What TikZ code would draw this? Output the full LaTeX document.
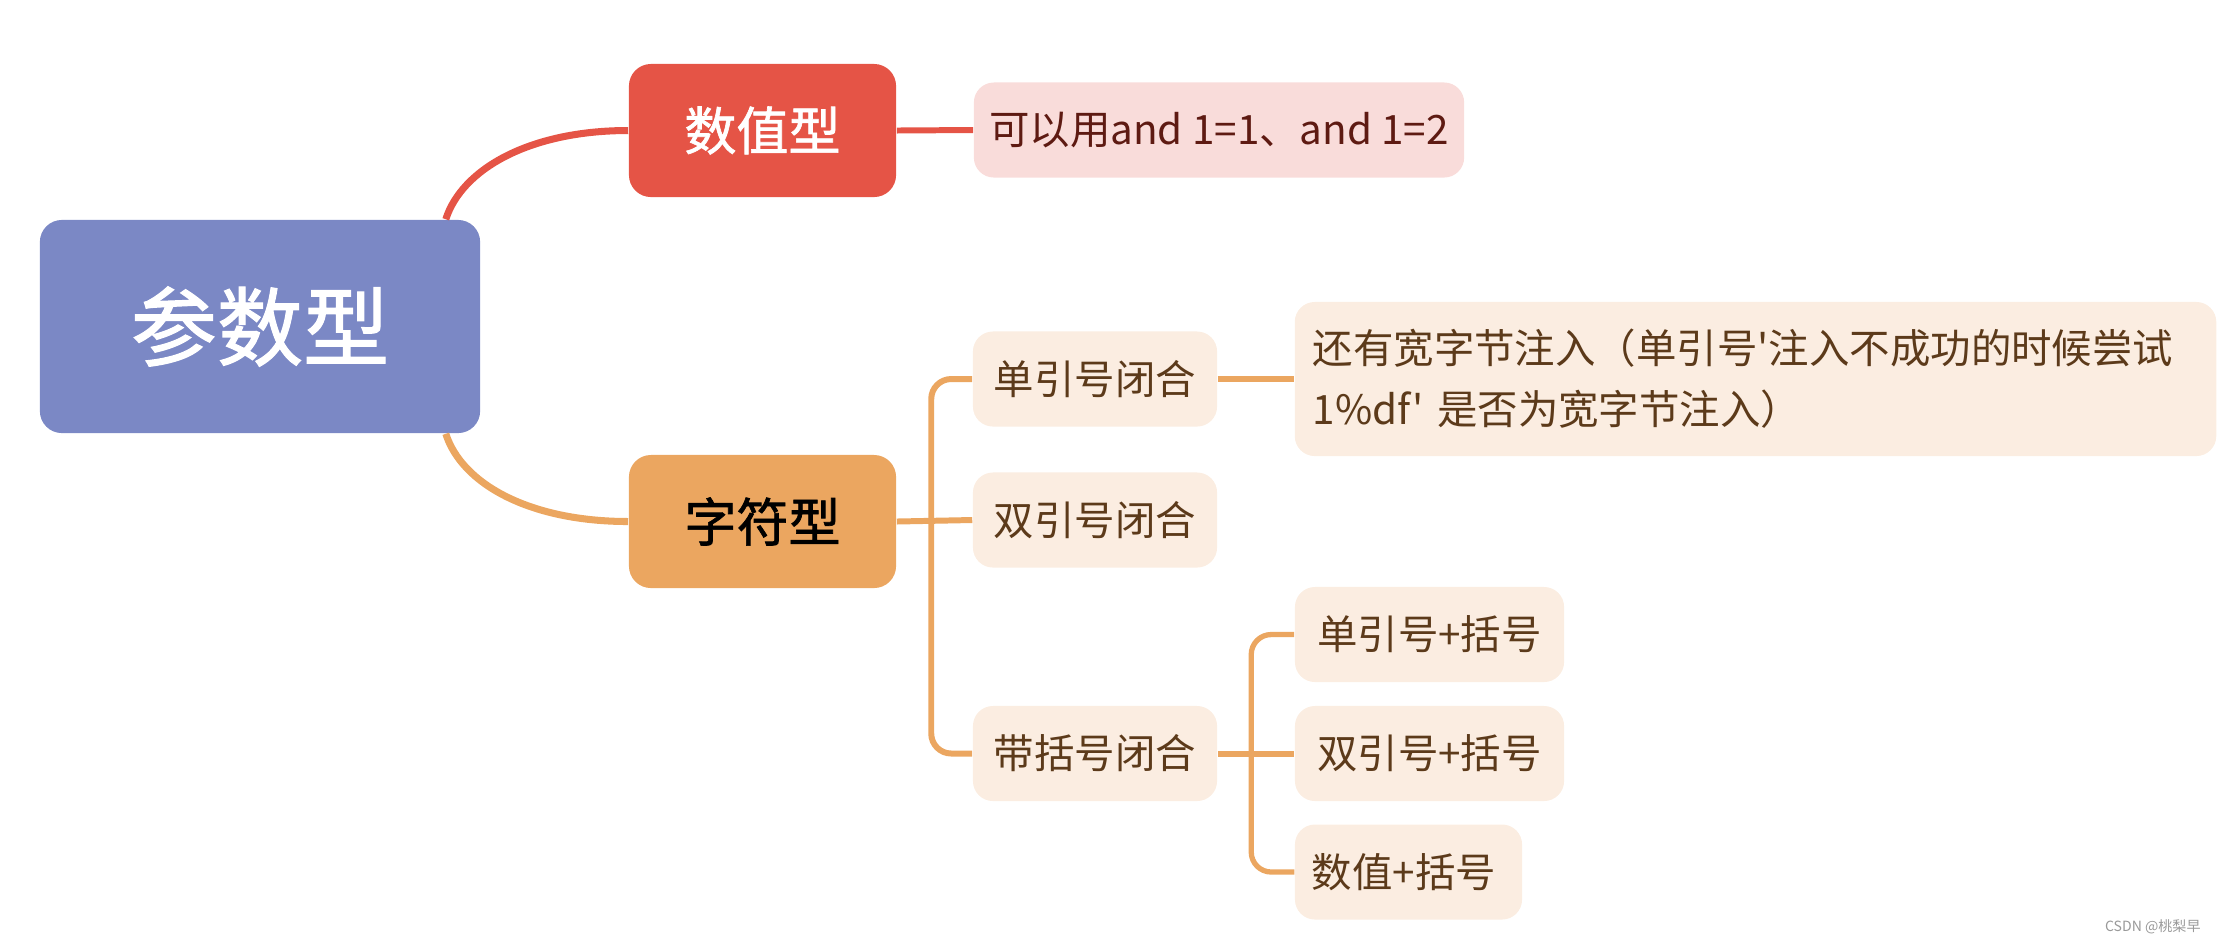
\documentclass[tikz,border=0pt]{standalone}
\usepackage{fontspec}
\setmainfont{Noto Sans CJK SC}[Ligatures=TeXOff]
\newfontfamily\topicfont{Noto Sans CJK SC}[FakeBold=1.3]
\usepackage{tikz}

\definecolor{rootblue}{HTML}{7B88C5}
\definecolor{numred}{HTML}{E55446}
\definecolor{numleaf}{HTML}{F9DCDA}
\definecolor{numtext}{HTML}{5E1A12}
\definecolor{chrorange}{HTML}{EBA660}
\definecolor{chrleaf}{HTML}{FBEDE1}
\definecolor{chrtext}{HTML}{5C3A1A}

\tikzset{basic box/.style={rectangle,
                           rounded corners=2.2mm,
                           inner sep=0pt,
                           align=center}}
\tikzset{topic box/.style={basic box,
                           minimum width=2.67cm,
                           minimum height=1.33cm,
                           font=\fontsize{14.8pt}{16pt}\topicfont}}
\tikzset{leaf box/.style={basic box,
                          rounded corners=2mm,
                          minimum height=0.95cm,
                          font=\fontsize{11.5pt}{17.4pt}\selectfont}}
\tikzset{branch/.style={draw,
                        color=chrorange,
                        line width=1.7pt,
                        rounded corners=2mm}}

\begin{document}
\begin{tikzpicture}
      [
      x=0.01cm, y=-0.01cm,
      orange leaf/.style={leaf box,
      fill=chrleaf,
      text=chrtext},
      ]
      \useasboundingbox (0,0) rectangle (2228,944);

      % root and topics
      \node [basic box,fill=rootblue,text=white,minimum width=4.4cm,minimum height=2.13cm,
      font=\fontsize{24.5pt}{26pt}\topicfont] (root) at (260,326.5) {参数型};
      \node [topic box,fill=numred,text=white] (num) at (762.5,130.5) {数值型};
      \node [topic box,fill=chrorange,text=black] (chr) at (762.5,521.5) {字符型};

      % leaves
      \node [leaf box,fill=numleaf,text=numtext,minimum width=4.9cm] (numA) at (1219,130)
      {可以用and 1=1、and 1=2};

      \foreach \n/\x/\y/\w/\t in
      {
      sq/1095/379/2.44/单引号闭合,
      dq/1095/520/2.44/双引号闭合,
      br/1095/753.5/2.44/带括号闭合,
      sqb/1429.5/634.5/2.69/单引号+括号,
      dqb/1429.5/753.5/2.69/双引号+括号,
      numb/1408.5/872/2.27/数值+括号
      }
      {
      \node [orange leaf,minimum width=\w cm] (\n) at (\x,\y) {\t};
      }

      \node [orange leaf,minimum width=9.21cm,minimum height=1.54cm,text width=8.85cm,align=left]
      (wide) at (1755.5,379) {还有宽字节注入（单引号'注入不成功的时候尝试\\1\%df' 是否为宽字节注入）};

      % edges
      \draw [color=numred,line width=2pt] (root.30) .. controls +(16,-50) and +(-99,0) .. (num.west);
      \draw [color=chrorange,line width=2pt] (root.-30) .. controls +(16,50) and +(-99,0) .. (chr.west);
      \draw [color=numred,line width=1.7pt] (num.east) -- (numA.west);

      \path [branch] (chr.east) -- (dq.west);
      \path [branch] (sq.west) -- ++(-41,0) |- (br.west);
      \path [branch] (sq.east) -- (wide.west);
      \path [branch] (br.east) -- (dqb.west);
      \path [branch,line width=1.5pt] (sqb.west) -- ++(-43,0) |- (numb.west);

      %\node at (2213,927) {};
      \node [text=black!40,font=\fontsize{4pt}{5pt}\selectfont,anchor=east] (mark) at (2213,927) {CSDN @桃梨早};

    \end{tikzpicture}
\end{document}
